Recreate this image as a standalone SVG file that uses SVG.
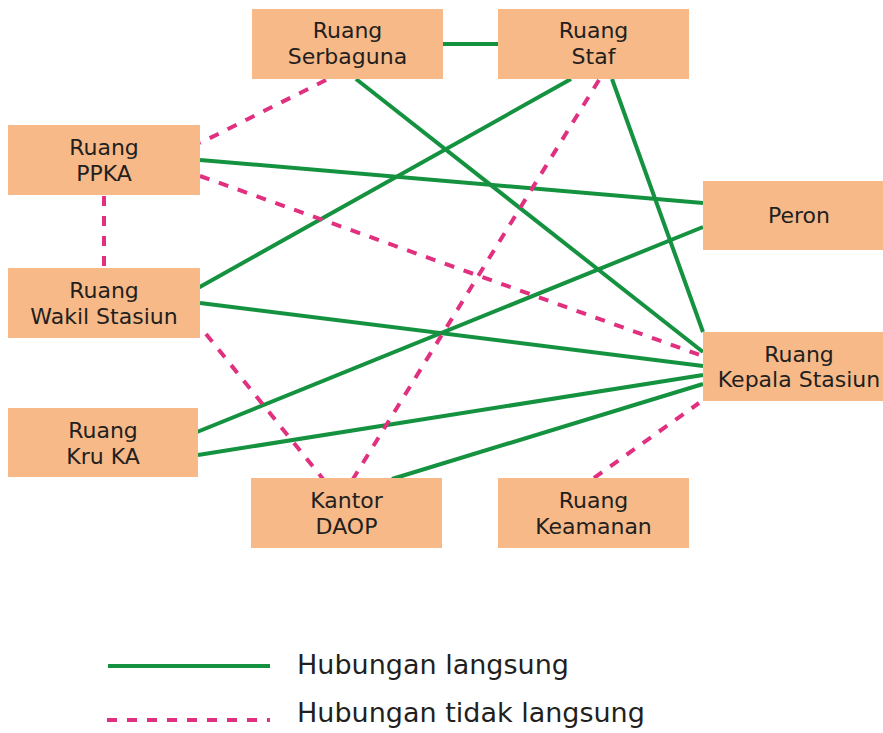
<svg xmlns="http://www.w3.org/2000/svg" width="883" height="733" viewBox="0 0 883 733">
<style>
.box{fill:#F7B987}
.lbl{font-family:"DejaVu Sans",sans-serif;font-size:22px;fill:#231f20;text-anchor:middle}
.leg{font-family:"DejaVu Sans",sans-serif;font-size:27px;fill:#231f20}
.solid{stroke:#14923F;stroke-width:4;fill:none}
.dash{stroke:#E0307F;stroke-width:4;fill:none;stroke-dasharray:10 10}
</style>
<rect width="883" height="733" fill="#ffffff"/>
<g id="connectors">
<line class="solid" x1="443" y1="44" x2="498" y2="44"/>
<line class="solid" x1="356" y1="79" x2="703" y2="352"/>
<line class="solid" x1="571" y1="79" x2="198" y2="288"/>
<line class="solid" x1="612" y1="79" x2="703" y2="332"/>
<line class="solid" x1="200" y1="160" x2="703" y2="203"/>
<line class="solid" x1="200" y1="303" x2="703" y2="366"/>
<line class="solid" x1="703" y1="227" x2="197" y2="432"/>
<line class="solid" x1="198" y1="455" x2="703" y2="375"/>
<line class="solid" x1="392" y1="479" x2="703" y2="384"/>
<line class="dash" x1="326" y1="80" x2="200" y2="143"/>
<line class="dash" x1="200" y1="176" x2="700" y2="355"/>
<line class="dash" x1="104" y1="196" x2="104" y2="268"/>
<line class="dash" x1="599" y1="80" x2="353" y2="479"/>
<line class="dash" x1="206" y1="334" x2="323" y2="479"/>
<line class="dash" x1="594" y1="478" x2="699" y2="403"/>
</g>
<g id="ruang-serbaguna"><rect class="box" x="252" y="9" width="191" height="70"/><text class="lbl" x="347.5" y="38">Ruang</text><text class="lbl" x="347.5" y="64">Serbaguna</text></g>
<g id="ruang-staf"><rect class="box" x="498" y="9" width="191" height="70"/><text class="lbl" x="593.5" y="38">Ruang</text><text class="lbl" x="593.5" y="64">Staf</text></g>
<g id="ruang-ppka"><rect class="box" x="8" y="125" width="192" height="70"/><text class="lbl" x="104" y="155">Ruang</text><text class="lbl" x="104" y="181">PPKA</text></g>
<g id="ruang-wakil-stasiun"><rect class="box" x="8" y="268" width="192" height="70"/><text class="lbl" x="104" y="298">Ruang</text><text class="lbl" x="104" y="324">Wakil Stasiun</text></g>
<g id="peron"><rect class="box" x="703" y="181" width="192" height="69"/><text class="lbl" x="799" y="223">Peron</text></g>
<g id="ruang-kepala-stasiun"><rect class="box" x="703" y="332" width="192" height="69"/><text class="lbl" x="799" y="362">Ruang</text><text class="lbl" x="799" y="387">Kepala Stasiun</text></g>
<g id="ruang-kru-ka"><rect class="box" x="8" y="408" width="190" height="69"/><text class="lbl" x="103" y="438">Ruang</text><text class="lbl" x="103" y="464">Kru KA</text></g>
<g id="kantor-daop"><rect class="box" x="251" y="478" width="191" height="70"/><text class="lbl" x="346.5" y="508">Kantor</text><text class="lbl" x="346.5" y="534">DAOP</text></g>
<g id="ruang-keamanan"><rect class="box" x="498" y="478" width="191" height="70"/><text class="lbl" x="593.5" y="508">Ruang</text><text class="lbl" x="593.5" y="534">Keamanan</text></g>
<g id="legend">
<line class="solid" x1="108" y1="666" x2="270" y2="666"/>
<text class="leg" x="297" y="674">Hubungan langsung</text>
<line class="dash" x1="107" y1="720" x2="270" y2="720"/>
<text class="leg" x="297" y="722">Hubungan tidak langsung</text>
</g>
</svg>
